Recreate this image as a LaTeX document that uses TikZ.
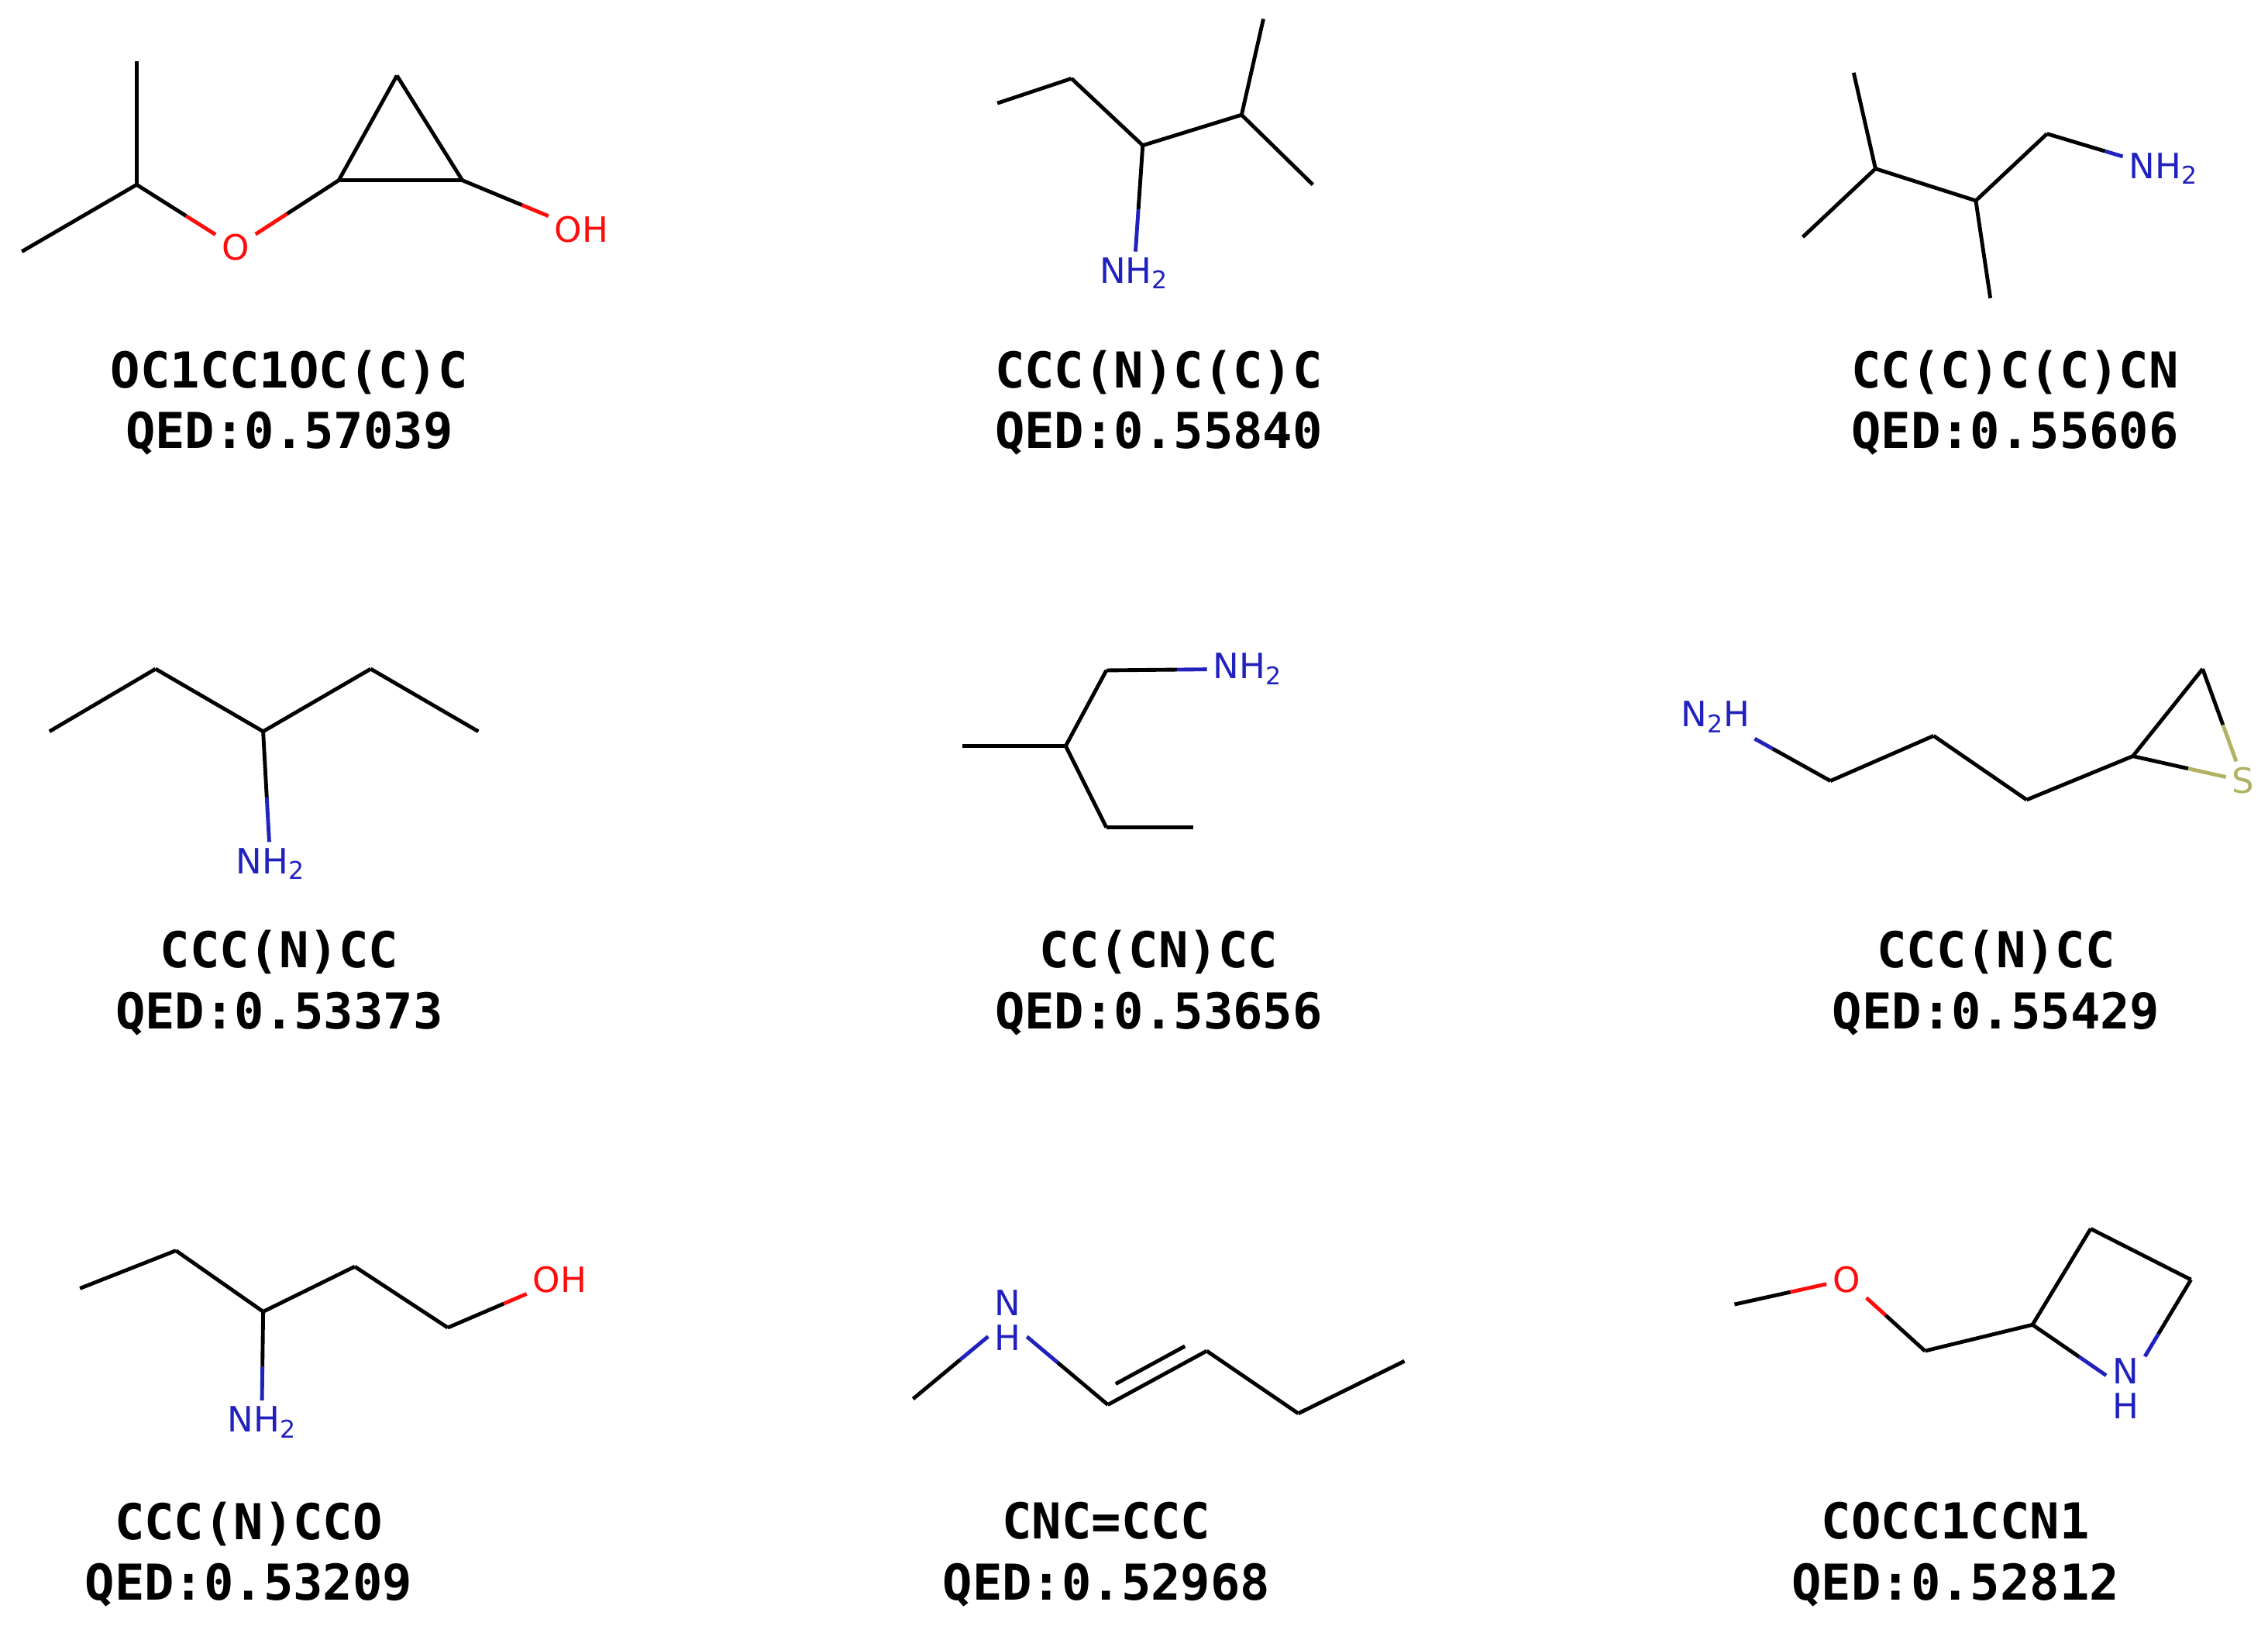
\documentclass[tikz,border=0pt]{standalone}
\usepackage{fontspec}
\setmainfont{DejaVu Sans}
\newfontfamily\capfont{DejaVu Sans Mono}
\usetikzlibrary{calc}
\definecolor{nblue}{RGB}{33,33,190}
\definecolor{ored}{RGB}{255,13,13}
\definecolor{syel}{RGB}{178,178,100}
\newcommand\bd[4]{\draw[#3] (#1) -- ($(#1)!0.5!(#2)$); \draw[#4] ($(#1)!0.5!(#2)$) -- (#2);}
\newcommand\cb[2]{\draw (#1) -- (#2);}
\tikzset{
 atom/.style={inner sep=3pt,font=\fontsize{24}{26}\selectfont},
 N/.style={atom,text=nblue},
 O/.style={atom,text=ored},
 S/.style={atom,text=syel},
 caption/.style={font=\capfont\bfseries\fontsize{34}{42}\selectfont,align=center}
}
\begin{document}
\begin{tikzpicture}[x=1pt,y=-1pt,line width=2.6pt]
\useasboundingbox[fill=white] (0,0) rectangle (1560,1118);
% M1
\coordinate (a1) at (15,173); \coordinate (a2) at (94,127); \coordinate (a3) at (94,42);
\node[O] (aO) at (162,170) {O};
\coordinate (a4) at (233,124); \coordinate (a5) at (273,52); \coordinate (a6) at (318,124);
\node[O] (aOH) at (400,158) {OH};
\cb{a1}{a2}\cb{a2}{a3}\bd{a2}{aO}{black}{ored}\bd{aO}{a4}{ored}{black}
\cb{a4}{a5}\cb{a5}{a6}\cb{a4}{a6}\bd{a6}{aOH}{black}{ored}
\node[caption] at (199,277) {OC1CC1OC(C)C\\QED:0.57039};
% M2
\coordinate (b1) at (686,71); \coordinate (b2) at (737,54); \coordinate (b3) at (786,100);
\node[N] (bN) at (780,188) {NH\textsubscript{2}};
\coordinate (b4) at (854,79); \coordinate (b5) at (869,13); \coordinate (b6) at (903,127);
\cb{b1}{b2}\cb{b2}{b3}\bd{b3}{bN}{black}{nblue}\cb{b3}{b4}\cb{b4}{b5}\cb{b4}{b6}
\node[caption] at (797,277) {CCC(N)C(C)C\\QED:0.55840};
% M3
\coordinate (c1) at (1275,50); \coordinate (c2) at (1290,116); \coordinate (c3) at (1240,163);
\coordinate (c4) at (1359,138); \coordinate (c5) at (1369,205); \coordinate (c6) at (1408,92);
\node[N] (cN) at (1488,116) {NH\textsubscript{2}};
\cb{c1}{c2}\cb{c2}{c3}\cb{c2}{c4}\cb{c4}{c5}\cb{c4}{c6}\bd{c6}{cN}{black}{nblue}
\node[caption] at (1386,277) {CC(C)C(C)CN\\QED:0.55606};
% M4
\coordinate (d1) at (34,503); \coordinate (d2) at (107,460); \coordinate (d3) at (181,503);
\coordinate (d4) at (255,460); \coordinate (d5) at (329,503);
\node[N] (dN) at (186,594) {NH\textsubscript{2}};
\cb{d1}{d2}\cb{d2}{d3}\cb{d3}{d4}\cb{d4}{d5}\bd{d3}{dN}{black}{nblue}
\node[caption] at (192,676) {CCC(N)CC\\QED:0.53373};
% M5
\coordinate (e1) at (662,513); \coordinate (e2) at (733,513); \coordinate (e3) at (761,461);
\node[N] (eN) at (858,460) {NH\textsubscript{2}};
\coordinate (e4) at (761,569); \coordinate (e5) at (821,569);
\cb{e1}{e2}\cb{e2}{e3}\bd{e3}{eN}{black}{nblue}\cb{e2}{e4}\cb{e4}{e5}
\node[caption] at (797,676) {CC(CN)CC\\QED:0.53656};
% M6
\node[N] (fN) at (1180,493) {N\textsubscript{2}H};
\coordinate (f1) at (1259,537); \coordinate (f2) at (1330,506); \coordinate (f3) at (1394,550);
\coordinate (f4) at (1467,520); \coordinate (f5) at (1515,460);
\node[S] (fS) at (1543,537) {S};
\bd{fN}{f1}{nblue}{black}\cb{f1}{f2}\cb{f2}{f3}\cb{f3}{f4}\cb{f4}{f5}
\bd{f5}{fS}{black}{syel}\bd{fS}{f4}{syel}{black}
\node[caption] at (1373,676) {CCC(N)CC\\QED:0.55429};
% M7
\coordinate (g1) at (55,886); \coordinate (g2) at (121,860); \coordinate (g3) at (181,902);
\coordinate (g4) at (244,871); \coordinate (g5) at (308,913);
\node[O] (gO) at (385,880) {OH};
\node[N] (gN) at (180,978) {NH\textsubscript{2}};
\cb{g1}{g2}\cb{g2}{g3}\cb{g3}{g4}\cb{g4}{g5}\bd{g5}{gO}{black}{ored}\bd{g3}{gN}{black}{nblue}
\node[caption] at (171,1069) {CCC(N)CCO\\QED:0.53209};
% M8
\coordinate (h1) at (628,962);
\node[N,align=center,font=\fontsize{24}{24}\selectfont] (hN) at (693,908) {N\\H};
\coordinate (h2) at (762,966); \coordinate (h3) at (830,929); \coordinate (h4) at (893,972);
\coordinate (h5) at (966,936);
\bd{h1}{hN}{black}{nblue}\bd{hN}{h2}{nblue}{black}\cb{h2}{h3}
\draw ($(h2)!0.15!(h3)+(-4.8,-8.8)$) -- ($(h2)!0.85!(h3)+(-4.8,-8.8)$);
\cb{h3}{h4}\cb{h4}{h5}
\node[caption] at (761,1069) {CNC=CCC\\QED:0.52968};
% M9
\coordinate (i1) at (1193,897);
\node[O] (iO) at (1270,880) {O};
\coordinate (i2) at (1324,929); \coordinate (i3) at (1398,911); \coordinate (i4) at (1438,845);
\coordinate (i5) at (1507,880);
\node[N,align=center,font=\fontsize{24}{24}\selectfont] (iN) at (1462,955) {N\\H};
\bd{i1}{iO}{black}{ored}\bd{iO}{i2}{ored}{black}\cb{i2}{i3}\cb{i3}{i4}\cb{i4}{i5}
\bd{i5}{iN}{black}{nblue}\bd{iN}{i3}{nblue}{black}
\node[caption] at (1345,1069) {COCC1CCN1\\QED:0.52812};
\end{tikzpicture}
\end{document}
